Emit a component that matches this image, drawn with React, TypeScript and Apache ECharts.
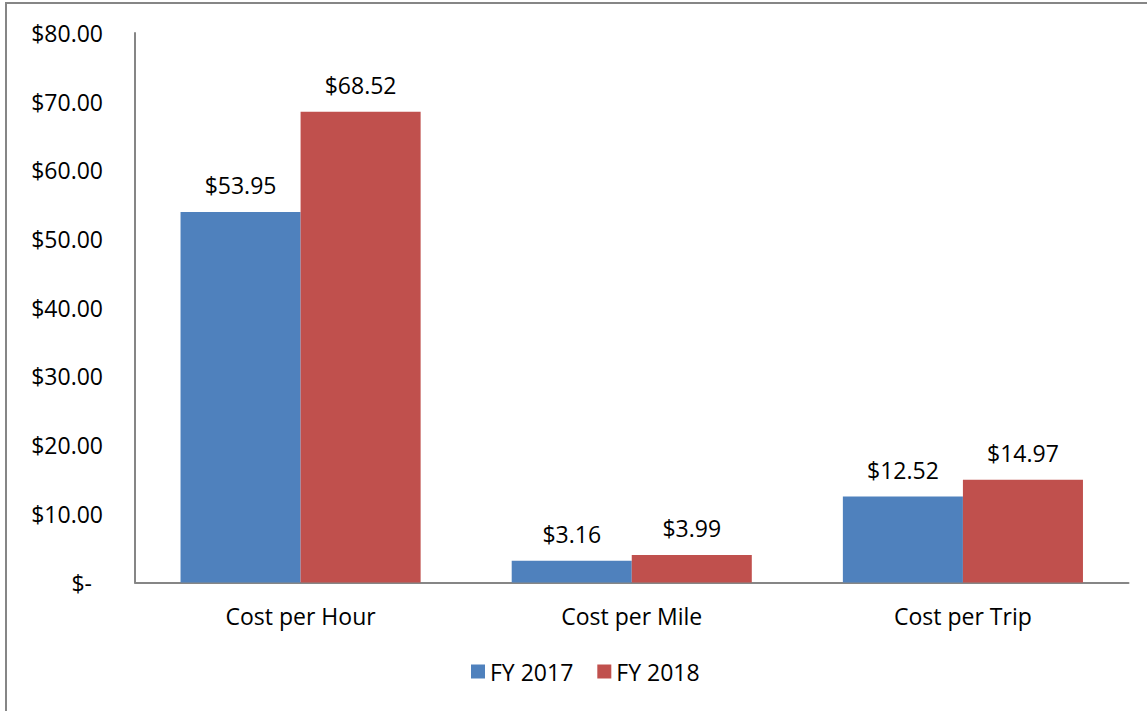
import React, { useEffect, useRef } from "react";
import * as echarts from "echarts";

const categories = ["Cost per Hour", "Cost per Mile", "Cost per Trip"];
const seriesNames = ["FY 2017", "FY 2018"];
const fy2017 = [53.95, 3.16, 12.52];
const fy2018 = [68.52, 3.99, 14.97];
const yTicks = { min: 0, max: 80, interval: 10 };

const FONT = "'Open Sans', sans-serif";
const FS = 23;

export default function App() {
  const ref = useRef<HTMLDivElement>(null);
  useEffect(() => {
    document.body.style.margin = "0";
    const chart = echarts.init(ref.current!, null, { renderer: "svg" });
    const labelCfg = {
      show: true,
      position: "top" as const,
      distance: 17,
      fontSize: FS,
      lineHeight: 20,
      fontFamily: FONT,
      color: "#000",
      formatter: (p: any) => "$" + p.value.toFixed(2),
    };
    chart.setOption({
      animation: false,
      backgroundColor: "#fff",
      textStyle: { fontFamily: FONT },
      graphic: [
        {
          type: "rect",
          shape: { x: 6, y: 3, width: 1300, height: 900 },
          style: { fill: "none", stroke: "#868686", lineWidth: 2 },
          silent: true,
        },
      ],
      grid: { left: 135, top: 33, right: 18.5, bottom: 128.5, containLabel: false },
      legend: {
        data: seriesNames,
        top: 655,
        left: 466,
        itemWidth: 14,
        itemHeight: 14,
        itemGap: 24,
        icon: "rect",
        textStyle: { fontSize: FS, lineHeight: 20, fontFamily: FONT, color: "#000" },
      },
      xAxis: {
        type: "category",
        data: categories,
        axisLine: { lineStyle: { color: "#868686", width: 2 } },
        axisTick: { show: false },
        axisLabel: { fontSize: FS, lineHeight: 20, color: "#000", margin: 23, fontFamily: FONT },
      },
      yAxis: {
        type: "value",
        min: yTicks.min,
        max: yTicks.max,
        interval: yTicks.interval,
        splitLine: { show: false },
        axisLine: { show: true, lineStyle: { color: "#868686", width: 2 } },
        axisTick: { show: false },
        axisLabel: {
          fontSize: FS,
          color: "#000",
          margin: 32,
          fontFamily: FONT,
          formatter: (v: number) => (v === 0 ? "{z|$-}" : "$" + v.toFixed(2)),
          rich: { z: { fontSize: FS, fontFamily: FONT, color: "#000", padding: [0, 11, 0, 0] } },
        },
      },
      series: [
        {
          name: seriesNames[0],
          type: "bar",
          data: fy2017,
          itemStyle: { color: "#4F81BD" },
          barGap: "0%",
          barCategoryGap: "27.5%",
          label: labelCfg,
        },
        {
          name: seriesNames[1],
          type: "bar",
          data: fy2018,
          itemStyle: { color: "#C0504D" },
          barGap: "0%",
          barCategoryGap: "27.5%",
          label: labelCfg,
        },
      ],
    });
    return () => chart.dispose();
  }, []);
  return (
    <div
      ref={ref}
      style={{ position: "fixed", left: 0, top: 0, width: 1147, height: 711 }}
    />
  );
}
